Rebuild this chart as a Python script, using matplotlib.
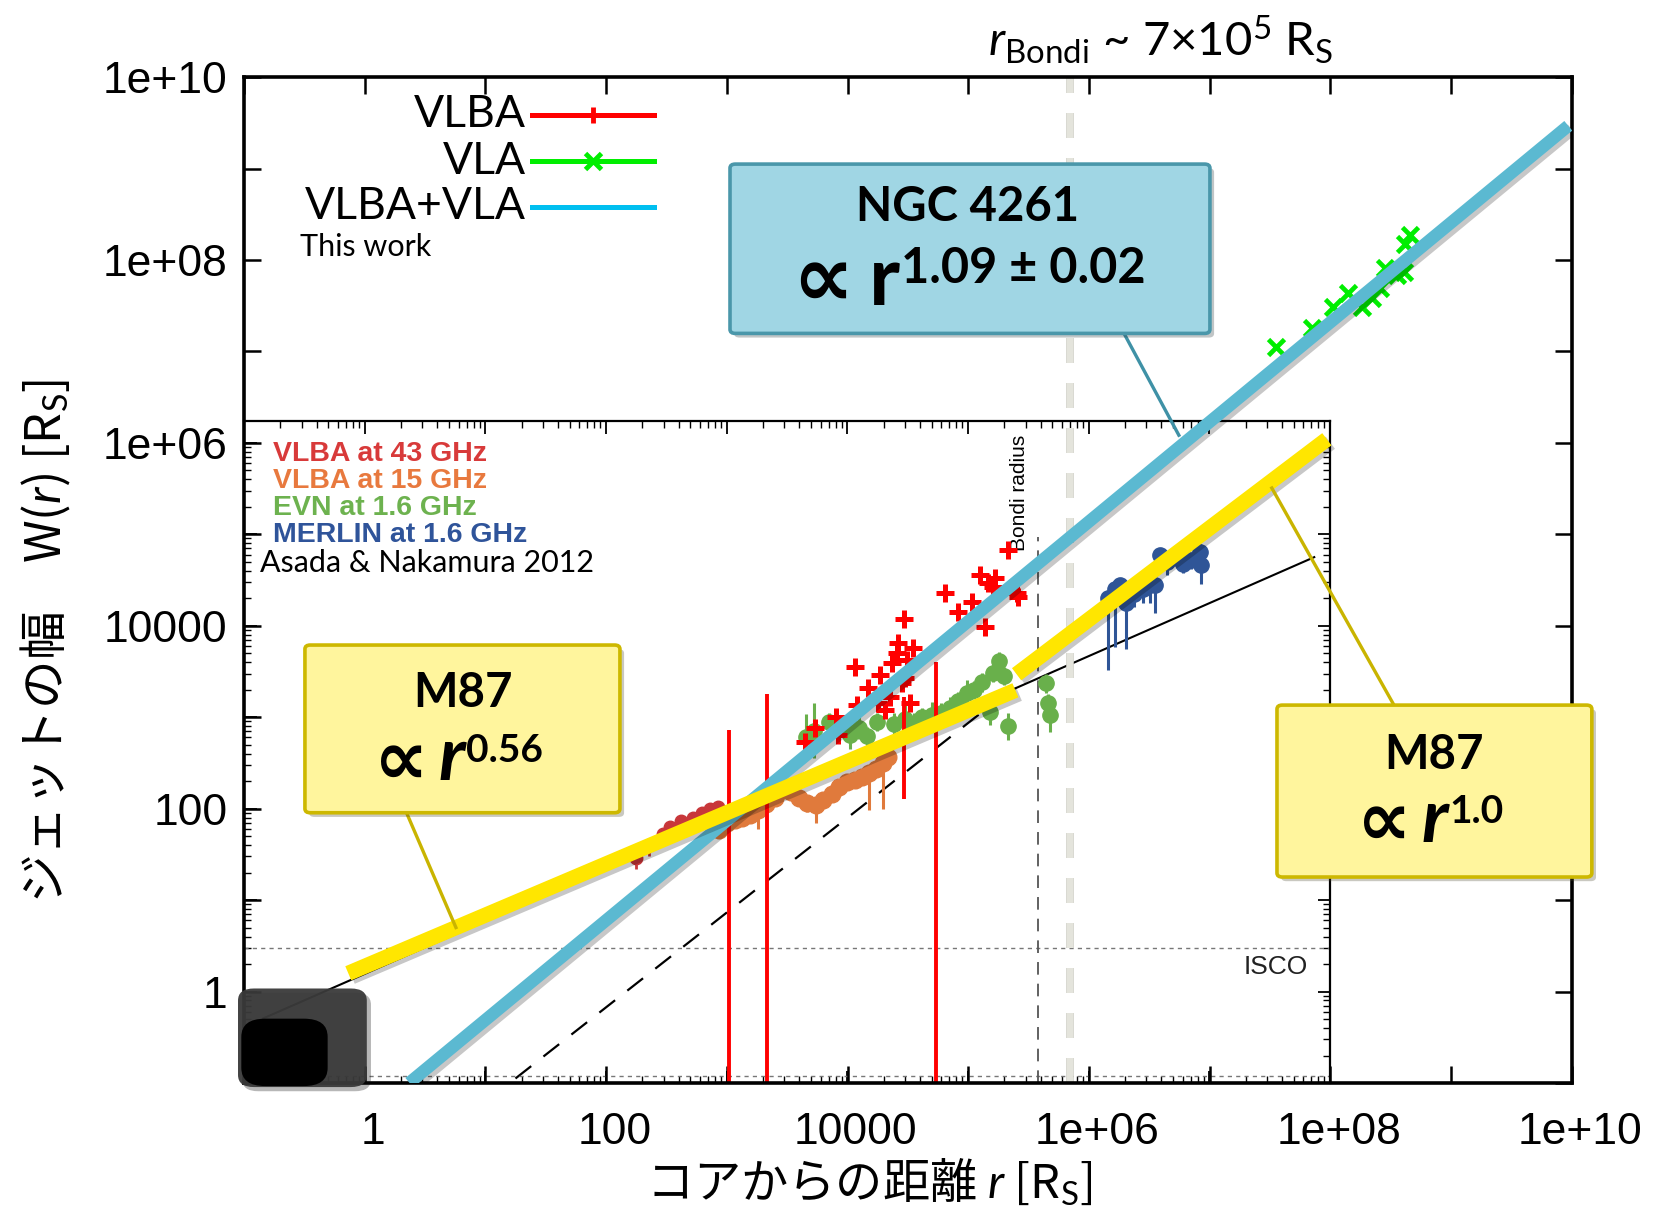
import numpy as np
import matplotlib.pyplot as plt
import matplotlib.patheffects as pe
from matplotlib.patches import FancyBboxPatch
from matplotlib.transforms import ScaledTranslation
from matplotlib.ticker import FixedLocator, FuncFormatter, LogLocator, NullLocator, NullFormatter

plt.rcParams['font.family'] = 'Liberation Sans'
plt.rcParams['mathtext.fontset'] = 'custom'
plt.rcParams['mathtext.rm'] = 'Lato'
plt.rcParams['mathtext.it'] = 'Lato:italic'
plt.rcParams['mathtext.bf'] = 'Lato:bold'

CJK = ['Noto Sans CJK JP', 'DejaVu Sans']

# ---- NGC 4261, this work (log10 r, log10 W) ----
vlba_logr = [3.648, 3.73, 3.900, 3.924, 4.062, 4.075, 4.172, 4.255, 4.269, 4.311,
             4.352, 4.366, 4.408, 4.416, 4.448, 4.468, 4.476, 4.490, 4.518, 4.545,
             4.808, 4.918, 5.029, 5.098, 5.139, 5.167, 5.208, 5.222, 5.33, 5.402, 5.415]
vlba_logw = [2.732, 2.88, 3.006, 2.805, 3.552, 3.133, 3.316, 3.151, 3.461, 3.078,
             3.224, 3.589, 3.698, 3.807, 3.370, 4.070, 3.425, 3.625, 3.151, 3.753,
             4.354, 4.153, 4.263, 4.554, 3.989, 4.464, 4.427, 4.518, 4.828, 4.354, 4.318]
# VLBA points with large error bars
vlba_bar_logr = [3.02, 3.33, 4.47, 4.73]
vlba_bar_lo = [-2.0, -2.0, 2.11, -2.0]
vlba_bar_hi = [2.86, 3.25, 3.22, 3.60]

vla_logr = [7.550, 7.846, 8.025, 8.149, 8.260, 8.343, 8.412, 8.453, 8.550, 8.605, 8.615, 8.660]
vla_logw = [7.051, 7.252, 7.488, 7.635, 7.488, 7.580, 7.690, 7.909, 7.835, 7.871, 8.176, 8.272]

# VLBA+VLA power-law fit
fit_index = 1.09
fit_lognorm = -1.40
fit_logr = [0.37, 9.97]

# ---- M87, Asada & Nakamura 2012 ----
m87_in_index = 0.56
m87_in_pivot = (2.627, 1.7475)
m87_in_logr = [-0.136, 5.39]
m87_out_index = 1.0
m87_out_pivot = (6.685, 4.755)
m87_out_logr = [5.40, 7.97]

parab_logr = [-0.84, 7.87]
parab_logw = [-0.293, 4.75]
conic_logr = [1.25, 5.41]
conic_logw = [-0.95, 3.36]

vlba43_logr = [2.25, 2.36, 2.47, 2.53, 2.62, 2.72, 2.80, 2.86, 2.93, 3.00]
vlba43_logw = [1.46, 1.60, 1.72, 1.80, 1.86, 1.90, 1.95, 2.00, 2.02, 1.96]

vlba15_logr = [2.94, 3.00, 3.07, 3.13, 3.19, 3.26, 3.33, 3.40, 3.47, 3.53, 3.60, 3.67,
               3.74, 3.80, 3.87, 3.93, 4.00, 4.06, 4.12, 4.18, 4.24, 4.30, 4.34]
vlba15_logw = [1.77, 1.84, 1.88, 1.90, 1.93, 1.98, 2.05, 2.12, 2.20, 2.18, 2.12, 2.06,
               2.04, 2.09, 2.16, 2.24, 2.29, 2.31, 2.35, 2.39, 2.43, 2.50, 2.56]
vlba15_err = [0.05, 0.04, 0.05, 0.04, 0.05, 0.2, 0.05, 0.04, 0.05, 0.05, 0.05, 0.1,
              0.2, 0.05, 0.05, 0.04, 0.05, 0.05, 0.05, 0.4, 0.05, 0.5, 0.05]

evn_logr = [3.66, 3.72, 3.85, 4.02, 4.10, 4.16, 4.25, 4.39, 4.48, 4.55, 4.62, 4.70,
            4.78, 4.85, 4.92, 4.99, 5.05, 5.12, 5.18, 5.21, 5.26, 5.30, 5.33, 5.65, 5.66, 5.68]
evn_logw = [2.78, 2.85, 2.95, 2.80, 2.88, 2.79, 2.95, 2.93, 2.98, 2.93, 3.00, 3.02,
            3.05, 3.10, 3.18, 3.26, 3.30, 3.38, 3.06, 3.48, 3.61, 3.45, 2.90, 3.37, 3.15, 3.02]
evn_err = [0.25, 0.30, 0.10, 0.15, 0.12, 0.10, 0.10, 0.12, 0.15, 0.12, 0.10, 0.15,
           0.10, 0.12, 0.10, 0.15, 0.10, 0.10, 0.15, 0.10, 0.10, 0.10, 0.15, 0.10, 0.10, 0.18]

merlin_logr = [6.16, 6.22, 6.26, 6.31, 6.38, 6.45, 6.51, 6.55, 6.59, 6.65, 6.72, 6.78, 6.85, 6.92, 6.93]
merlin_logw = [4.30, 4.40, 4.44, 4.25, 4.35, 4.40, 4.45, 4.44, 4.77, 4.70, 4.75, 4.68, 4.72, 4.81, 4.66]
merlin_lo = [0.78, 0.63, 0.20, 0.50, 0.15, 0.15, 0.20, 0.30, 0.10, 0.15, 0.10, 0.10, 0.10, 0.10, 0.20]

isco_w = 3.0
horizon_w = 0.12
bondi_m87 = 3.8e5
bondi_r = 7e5

fig = plt.figure(figsize=(16.62, 12.12), dpi=100)
ax = fig.add_axes([0.1468, 0.1064, 0.7990, 0.8300])
axin = fig.add_axes([0.1468, 0.1064, 0.6534, 0.5462])
ax.set_zorder(2)
ax.patch.set_visible(False)
axin.set_zorder(1)

# ---- main frame ----
ax.set_xscale('log')
ax.set_yscale('log')
ax.set_xlim(0.1, 1e10)
ax.set_ylim(0.1, 1e10)
decades = 10.0 ** np.arange(-1, 11)
fmt = FuncFormatter(lambda v, p: '%g' % v if int(round(np.log10(v))) % 2 == 0 else '')
for axis in (ax.xaxis, ax.yaxis):
    axis.set_major_locator(FixedLocator(decades))
    axis.set_minor_locator(NullLocator())
    axis.set_major_formatter(fmt)
ax.tick_params(which='major', direction='in', length=12, width=1.8,
               top=True, right=True, labelsize=32)
ax.tick_params(axis='x', pad=21)
ax.tick_params(axis='y', pad=12)
for lab in ax.get_xticklabels():
    lab.set_transform(lab.get_transform() + ScaledTranslation(6 / 72, 0, fig.dpi_scale_trans))
for s in ax.spines.values():
    s.set_linewidth(2.6)

# ---- M87 inset ----
axin.set_xscale('log')
axin.set_yscale('log')
axin.set_xlim(0.1, 1e8)
axin.set_ylim(0.1, 10 ** 6.238)
for axis in (axin.xaxis, axin.yaxis):
    axis.set_major_locator(LogLocator(base=10, numticks=30))
    axis.set_minor_locator(LogLocator(base=10, subs=np.arange(2, 10), numticks=30))
    axis.set_major_formatter(NullFormatter())
    axis.set_minor_formatter(NullFormatter())
axin.tick_params(which='both', direction='in', top=True, right=True)
axin.tick_params(which='major', length=9, width=1.3)
axin.tick_params(which='minor', length=5, width=1.0)
axin.spines['left'].set_visible(False)
axin.spines['bottom'].set_visible(False)
axin.spines['top'].set_linewidth(1.6)
axin.spines['right'].set_linewidth(1.6)

axin.plot(10 ** np.array(parab_logr), 10 ** np.array(parab_logw), color='black', lw=1.5)
axin.plot(10 ** np.array(conic_logr), 10 ** np.array(conic_logw), color='black', lw=1.6,
          dashes=(9, 7))
axin.axhline(isco_w, color='#777777', lw=1.0, ls=(0, (3, 3)))
axin.axhline(horizon_w, color='#777777', lw=1.0, ls=(0, (3, 3)))
axin.vlines(bondi_m87, 0.1, 10 ** 4.97, color='#555555', lw=1.3, linestyles=(0, (7, 5)))
axin.text(10 ** 5.43, 10 ** 6.09, 'Bondi radius', rotation=90, ha='center', va='top',
          fontsize=15, color='black')
axin.text(0.98, 0.1757, 'ISCO', transform=axin.transAxes, ha='right', va='center',
          fontsize=19, color='#222222')

axin.errorbar(10 ** np.array(vlba43_logr), 10 ** np.array(vlba43_logw),
              yerr=[10 ** np.array(vlba43_logw) * (1 - 10 ** -0.12),
                    10 ** np.array(vlba43_logw) * (10 ** 0.05 - 1)],
              fmt='o', ms=9, color='#C8373A', elinewidth=2, capsize=0)
axin.errorbar(10 ** np.array(vlba15_logr), 10 ** np.array(vlba15_logw),
              yerr=[10 ** np.array(vlba15_logw) * (1 - 10 ** -np.array(vlba15_err)),
                    10 ** np.array(vlba15_logw) * (10 ** 0.04 - 1)],
              fmt='o', ms=12, color='#E07A3C', elinewidth=2.2, capsize=0)
evn_w = 10 ** np.array(evn_logw)
evn_e = np.array(evn_err)
axin.errorbar(10 ** np.array(evn_logr), evn_w,
              yerr=[evn_w * (1 - 10 ** -evn_e), evn_w * (10 ** evn_e - 1)],
              fmt='o', ms=11, color='#69B04B', elinewidth=2.2, capsize=0)
merlin_w = 10 ** np.array(merlin_logw)
axin.errorbar(10 ** np.array(merlin_logr), merlin_w,
              yerr=[merlin_w * (1 - 10 ** -np.array(merlin_lo)), merlin_w * (10 ** 0.08 - 1)],
              fmt='o', ms=11, color='#2F5597', elinewidth=2.2, capsize=0)

inset_labels = [('VLBA at 43 GHz', '#D83A3A'), ('VLBA at 15 GHz', '#E8793E'),
                ('EVN at 1.6 GHz', '#6DB24F'), ('MERLIN at 1.6 GHz', '#2F549A')]
for i, (txt, c) in enumerate(inset_labels):
    axin.text(0.027, 0.9506 - 0.0409 * i, txt, transform=axin.transAxes, color=c,
              fontsize=20.5, weight='bold', ha='left', va='center')
axin.text(0.0147, 0.7855, 'Asada & Nakamura 2012', transform=axin.transAxes,
          fontsize=22, family='Lato', ha='left', va='center')

# ---- this work on top ----
shadow = [pe.SimpleLineShadow(offset=(2.5, -2.5), alpha=0.22), pe.Normal()]

ax.axvline(bondi_r, color='#E4E4DC', lw=4.5, dashes=(4, 3.2), zorder=1,
           path_effects=[pe.Stroke(linewidth=5.5, foreground='#D0D0C8'), pe.Normal()])

r_in = 10 ** np.array(m87_in_logr)
w_in = 10 ** (m87_in_pivot[1] + m87_in_index * (np.array(m87_in_logr) - m87_in_pivot[0]))
r_out = 10 ** np.array(m87_out_logr)
w_out = 10 ** (m87_out_pivot[1] + m87_out_index * (np.array(m87_out_logr) - m87_out_pivot[0]))

fit_r = 10 ** np.array(fit_logr)
fit_w = 10 ** (fit_lognorm + fit_index * np.array(fit_logr))

ax.vlines(10 ** np.array(vlba_bar_logr), 10 ** np.array(vlba_bar_lo), 10 ** np.array(vlba_bar_hi),
          color='#FF0000', lw=2.8, zorder=2)
ax.plot(10 ** np.array(vlba_logr), 10 ** np.array(vlba_logw), '+', color='#FF0000',
        ms=13, mew=3.6, zorder=2)
ax.plot(10 ** np.array(vla_logr), 10 ** np.array(vla_logw), 'x', color='#00EE00',
        ms=11, mew=3.4, zorder=2)

ax.plot(fit_r, fit_w, color='#5BB9D1', lw=9, solid_capstyle='butt', zorder=3,
        path_effects=shadow)
ax.plot(r_in, w_in, color='#FFE600', lw=11, solid_capstyle='butt', zorder=3,
        path_effects=shadow)
ax.plot(r_out, w_out, color='#FFE600', lw=11, solid_capstyle='butt', zorder=3,
        path_effects=shadow)

# dark corner panel
ax.add_patch(FancyBboxPatch((-0.0045, -0.004), 0.097, 0.098,
                            boxstyle='round,pad=0,rounding_size=0.012',
                            transform=ax.transAxes, clip_on=False, fc='#3A3A3A', ec='none',
                            alpha=0.95, zorder=4,
                            path_effects=[pe.withSimplePatchShadow(offset=(3, -3), alpha=0.3)]))
ax.add_patch(FancyBboxPatch((-0.002, -0.003), 0.065, 0.067,
                            boxstyle='round,pad=0,rounding_size=0.018',
                            transform=ax.transAxes, clip_on=False, fc='black', ec='none',
                            zorder=4))

# ---- legend ----
legend_rows = [('VLBA', '#FF0000', '+', 0.9627), ('VLA', '#00EE00', 'x', 0.9165),
               ('VLBA+VLA', '#00BFF0', None, 0.871)]
for txt, c, m, yy in legend_rows:
    ax.text(0.212, yy, txt, transform=ax.transAxes, ha='right', va='center',
            fontsize=32, family='Lato')
    ax.plot([0.217, 0.309], [yy, yy], transform=ax.transAxes, color=c, lw=3.6, zorder=5)
    if m:
        ax.plot([0.263], [yy], m, transform=ax.transAxes, color=c, ms=12, mew=3.5, zorder=5)
ax.text(0.042, 0.831, 'This work', transform=ax.transAxes, ha='left', va='center',
        fontsize=22, family='Lato')

# ---- callout boxes ----
box_shadow = [pe.withSimplePatchShadow(offset=(3, -3), alpha=0.3)]


def callout(x0, y0, x1, y1, fc, ec):
    ax.add_patch(FancyBboxPatch((x0, y0), x1 - x0, y1 - y0,
                                boxstyle='round,pad=0,rounding_size=0.004',
                                transform=ax.transAxes, clip_on=False, fc=fc, ec=ec,
                                lw=2.6, zorder=6, path_effects=box_shadow))


def power_law(x_prop, y_prop, y_base, y_sup, sup, prop_size, r_size, sup_size, italic, gap):
    # "∝ r^index" built from three pieces so the r can be drawn larger
    t1 = ax.text(x_prop, y_prop, '∝', transform=ax.transAxes, ha='center', va='center',
                 family='DejaVu Sans', weight='bold', fontsize=prop_size, zorder=7)
    t2 = ax.annotate('r', xy=(1.0, y_base), xycoords=(t1, ax.transAxes),
                     xytext=(gap, 0), textcoords='offset points', ha='left', va='baseline',
                     family='Lato', weight='bold', style='italic' if italic else 'normal',
                     fontsize=r_size, zorder=7)
    ax.annotate(sup, xy=(1.0, y_sup), xycoords=(t2, ax.transAxes),
                xytext=(1, 0), textcoords='offset points', ha='left', va='baseline',
                family='Lato', weight='bold', fontsize=sup_size, zorder=7)


callout(0.366, 0.7452, 0.7274, 0.9135, '#A0D6E4', '#4A97AA')
ax.plot([0.6634, 0.704], [0.7435, 0.644], transform=ax.transAxes, color='#3F91A6', lw=2.4,
        zorder=5)
ax.text(0.545, 0.871, 'NGC 4261', transform=ax.transAxes, ha='center', va='center',
        fontsize=34, family='Lato', weight='bold', zorder=7)
power_law(0.4356, 0.7965, 0.7734, 0.7949, '1.09 ± 0.02', 62, 60, 35, False, 11)

callout(0.0459, 0.2687, 0.2831, 0.4354, '#FFF59D', '#CDB800')
ax.plot([0.1225, 0.1596], [0.2684, 0.1546], transform=ax.transAxes, color='#C9B400', lw=2.4,
        zorder=5)
ax.text(0.1649, 0.3877, 'M87', transform=ax.transAxes, ha='center', va='center',
        fontsize=34, family='Lato', weight='bold', zorder=7)
power_law(0.1187, 0.3188, 0.3012, 0.3194, '0.56', 55, 54, 28, True, 7)

callout(0.7779, 0.2048, 1.015, 0.3757, '#FFF59D', '#CDB800')
ax.plot([0.866, 0.774], [0.3757, 0.5915], transform=ax.transAxes, color='#C9B400', lw=2.4,
        zorder=5)
ax.text(0.896, 0.326, 'M87', transform=ax.transAxes, ha='center', va='center',
        fontsize=34, family='Lato', weight='bold', zorder=7)
power_law(0.8587, 0.2577, 0.2401, 0.2583, '1.0', 55, 54, 28, True, 7)

# ---- titles and axis labels ----
ax.text(0.6905, 1.037, r'$r_{\mathrm{Bondi}}$ ~ 7×10$^{5}$ R$_{\mathrm{S}}$',
        transform=ax.transAxes, ha='center', va='center', fontsize=34, family='Lato')
ax.text(0.4706, -0.1004, 'コアからの距離 $r$ [R$_{\mathrm{S}}$]', transform=ax.transAxes,
        ha='center', va='center', fontsize=34, family=CJK)
ax.text(-0.150, 0.4394, 'ジェットの幅　W($r$) [R$_{\mathrm{S}}$]', transform=ax.transAxes,
        ha='center', va='center', rotation=90, fontsize=35, family=CJK)

fig.savefig('out.png', dpi=100, facecolor='white')
